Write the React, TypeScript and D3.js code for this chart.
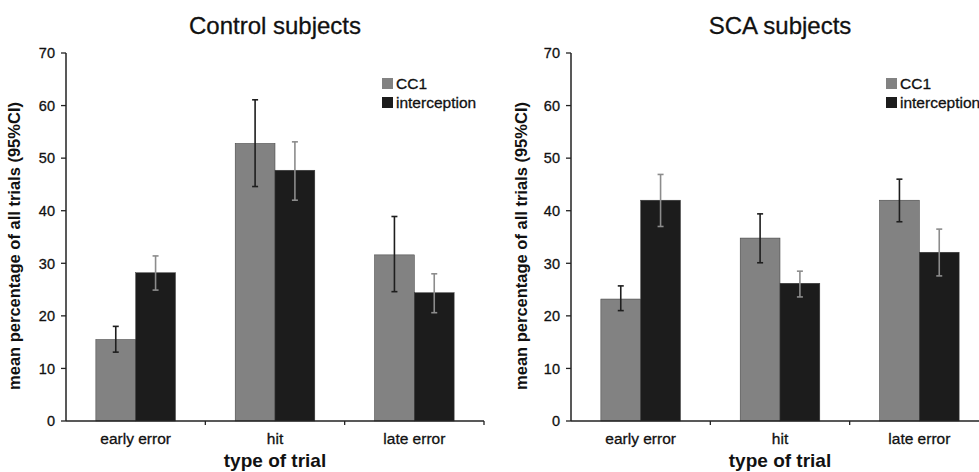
import React from 'react';
import * as d3 from 'd3';

const categories = ['early error', 'hit', 'late error'];
const seriesNames = ['CC1', 'interception'];
const yTicks = [0, 10, 20, 30, 40, 50, 60, 70];

// Control subjects
const controlCC1 = [15.5, 52.8, 31.6];
const controlCC1Lo = [13.1, 44.6, 24.6];
const controlCC1Hi = [18.0, 61.1, 38.9];
const controlInt = [28.2, 47.7, 24.4];
const controlIntLo = [24.9, 42.0, 20.6];
const controlIntHi = [31.4, 53.1, 28.0];

// SCA subjects
const scaCC1 = [23.2, 34.8, 42.0];
const scaCC1Lo = [21.0, 30.1, 37.9];
const scaCC1Hi = [25.7, 39.4, 46.0];
const scaInt = [42.0, 26.2, 32.1];
const scaIntLo = [37.0, 23.6, 27.6];
const scaIntHi = [46.9, 28.5, 36.5];

const W = 979;
const H = 472;
const FONT = '"Liberation Sans", Arial, Helvetica, sans-serif';
const barColors = ['#828282', '#1c1c1c'];
const errColors = ['#1e1e1e', '#8c8c8c'];
// the scanned text is a bit heavier than plain Liberation Sans
const heavy = { stroke: '#111', strokeWidth: 0.3 };

const y = d3.scaleLinear().domain([0, 70]).range([421, 53]);

type PanelProps = {
    x0: number;
    x1: number;
    title: string;
    means: number[][];
    lows: number[][];
    highs: number[][];
    yLabelX: number;
    legendX: number;
};

const Panel = ({ x0, x1, title, means, lows, highs, yLabelX, legendX }: PanelProps) => {
    const x = d3.scaleBand().domain(categories).range([x0, x1]).paddingInner(0).paddingOuter(0);
    const xs = d3.scaleBand().domain(seriesNames).range([0, x.bandwidth()]).paddingInner(0).paddingOuter(0.75);
    const mid = (x0 + x1) / 2;
    const yMid = (y(0) + y(70)) / 2;

    return (
        <g>
            <text x={mid} y={34} textAnchor="middle" fontSize={24} fill="#111" {...heavy}>{title}</text>

            {/* bars */}
            {seriesNames.map((s, si) =>
                categories.map((c, ci) => {
                    const bx = (x(c) as number) + (xs(s) as number);
                    const v = means[si][ci];
                    return (
                        <rect key={s + c} x={bx} y={y(v)} width={xs.bandwidth()} height={y(0) - y(v)}
                            fill={barColors[si]} stroke="#3a3a3a" strokeWidth={0.5} />
                    );
                })
            )}

            {/* error bars */}
            {seriesNames.map((s, si) =>
                categories.map((c, ci) => {
                    const cx = (x(c) as number) + (xs(s) as number) + xs.bandwidth() / 2;
                    const lo = y(lows[si][ci]);
                    const hi = y(highs[si][ci]);
                    return (
                        <g key={'e' + s + c} stroke={errColors[si]} strokeWidth={1.6}>
                            <line x1={cx} x2={cx} y1={lo} y2={hi} />
                            <line x1={cx - 3} x2={cx + 3} y1={lo} y2={lo} />
                            <line x1={cx - 3} x2={cx + 3} y1={hi} y2={hi} />
                        </g>
                    );
                })
            )}

            {/* y axis */}
            <line x1={x0} x2={x0} y1={y(70)} y2={y(0)} stroke="#222" strokeWidth={1.5} />
            {yTicks.map(t => (
                <g key={t}>
                    <line x1={x0 - 5} x2={x0} y1={y(t)} y2={y(t)} stroke="#222" strokeWidth={1.3} />
                    <text x={x0 - 11} y={y(t)} dy="0.36em" textAnchor="end" fontSize={14.5} fill="#111" {...heavy}>{t}</text>
                </g>
            ))}
            <text transform={`translate(${yLabelX},${yMid + 9}) rotate(-90)`} textAnchor="middle"
                fontSize={16.5} fontWeight="bold" fill="#111">mean percentage of all trials (95%CI)</text>

            {/* x axis */}
            <line x1={x0} x2={x1} y1={y(0)} y2={y(0)} stroke="#222" strokeWidth={1.5} />
            {categories.map(c => (
                <g key={c}>
                    <line x1={(x(c) as number) + x.bandwidth()} x2={(x(c) as number) + x.bandwidth()}
                        y1={y(0)} y2={y(0) + 4} stroke="#222" strokeWidth={1.3} />
                    <text x={(x(c) as number) + x.bandwidth() / 2} y={444} textAnchor="middle" fontSize={15.5} fill="#111" {...heavy}>{c}</text>
                </g>
            ))}
            <text x={mid} y={467} textAnchor="middle" fontSize={19} fontWeight="bold" fill="#111">type of trial</text>

            {/* legend */}
            {seriesNames.map((s, si) => (
                <g key={'l' + s} transform={`translate(${legendX},${78 + si * 19})`}>
                    <rect x={0} y={0} width={11} height={11} fill={barColors[si]} />
                    <text x={14} y={10.5} fontSize={15.5} fill="#111" {...heavy}>{s}</text>
                </g>
            ))}
        </g>
    );
};

const App = () => {
    return (
        <div style={{ position: 'absolute', left: 0, top: 0 }}>
            <svg width={W} height={H} fontFamily={FONT} style={{ display: 'block', background: '#fff' }}>
                <Panel x0={66} x1={484} title="Control subjects"
                    means={[controlCC1, controlInt]} lows={[controlCC1Lo, controlIntLo]} highs={[controlCC1Hi, controlIntHi]}
                    yLabelX={20} legendX={382} />
                <Panel x0={571} x1={989} title="SCA subjects"
                    means={[scaCC1, scaInt]} lows={[scaCC1Lo, scaIntLo]} highs={[scaCC1Hi, scaIntHi]}
                    yLabelX={527} legendX={886} />
            </svg>
        </div>
    );
};

export default App;
